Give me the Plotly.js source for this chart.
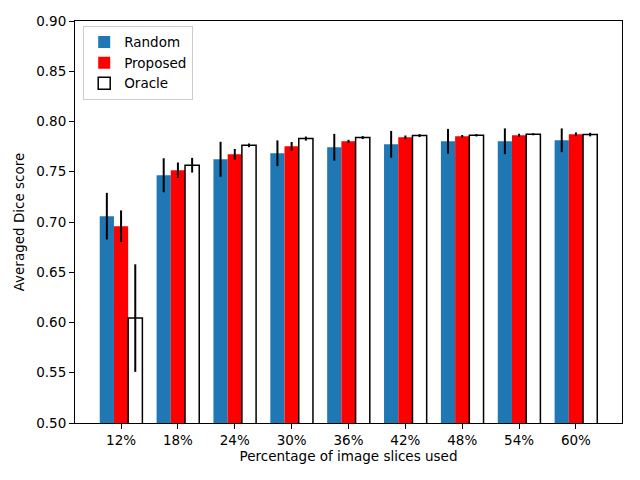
<!DOCTYPE html>
<html>
<head>
<meta charset="utf-8">
<script src="https://cdn.plot.ly/plotly-3.0.1.min.js"></script>
<style>
  body { margin: 0; background: #fff; }
  #chart { width: 640px; height: 480px; }
</style>
</head>
<body>
<div id="chart"></div>
<script>
var categories = ['12%', '18%', '24%', '30%', '36%', '42%', '48%', '54%', '60%'];

var random_mean = [0.7058, 0.7465, 0.7624, 0.7684, 0.7744, 0.7773, 0.7803, 0.7803, 0.7813];
var random_err = [0.0232, 0.0169, 0.0174, 0.0128, 0.0133, 0.0133, 0.0123, 0.0128, 0.0118];

var proposed_mean = [0.6958, 0.7515, 0.7674, 0.7753, 0.7803, 0.7843, 0.7853, 0.7863, 0.7873];
var proposed_err = [0.0157, 0.0077, 0.0053, 0.0043, 0.0015, 0.0018, 0.0013, 0.0015, 0.0018];

var oracle_mean = [0.6044, 0.7565, 0.7763, 0.7830, 0.7840, 0.7860, 0.7863, 0.7873, 0.7870];
var oracle_err = [0.0535, 0.0073, 0.0018, 0.0020, 0.0015, 0.0015, 0.0012, 0.0010, 0.0018];

var font = {family: 'DejaVu Sans, sans-serif', size: 13.5, color: '#000'};

function errs(arr) {
  return {type: 'data', array: arr, visible: true, color: 'black', thickness: 2, width: 0};
}

var random = {
  x: categories,
  y: random_mean,
  name: 'Random',
  type: 'bar',
  marker: {color: '#1f77b4', line: {width: 0}},
  error_y: errs(random_err),
};

var proposed = {
  x: categories,
  y: proposed_mean,
  name: 'Proposed',
  type: 'bar',
  marker: {color: '#ff0000', line: {width: 0}},
  error_y: errs(proposed_err),
};

var oracle = {
  x: categories,
  y: oracle_mean,
  name: 'Oracle',
  type: 'bar',
  marker: {color: '#ffffff', line: {color: 'black', width: 1.5}},
  error_y: errs(oracle_err),
};

var layout = {
  width: 640,
  height: 480,
  margin: {l: 75, r: 18, t: 21, b: 57, pad: 0},
  paper_bgcolor: '#fff',
  plot_bgcolor: '#fff',
  font: font,
  barmode: 'group',
  bargap: 0.25,
  bargroupgap: 0,
  showlegend: true,
  legend: {
    x: 0.015, y: 0.988, xanchor: 'left', yanchor: 'top',
    bgcolor: 'rgba(255,255,255,0.8)',
    bordercolor: '#cccccc',
    borderwidth: 1,
    tracegroupgap: 0,
    font: font,
  },
  xaxis: {
    type: 'category',
    range: [-0.81, 8.81],
    showline: true, mirror: true, linecolor: 'black', linewidth: 1,
    ticks: 'outside', ticklen: 5, tickcolor: 'black',
    showgrid: false, zeroline: false,
    tickfont: font,
    title: {text: 'Percentage of image slices used', font: font, standoff: 4},
  },
  yaxis: {
    range: [0.5, 0.9],
    dtick: 0.05,
    tick0: 0.5,
    tickformat: '.2f',
    showline: true, mirror: true, linecolor: 'black', linewidth: 1,
    ticks: 'outside', ticklen: 5, tickcolor: 'black',
    showgrid: false, zeroline: false,
    tickfont: font,
    title: {text: 'Averaged Dice score', font: font, standoff: 8},
  },
};

Plotly.newPlot('chart', [random, proposed, oracle], layout, {displayModeBar: false, staticPlot: true});
</script>
</body>
</html>
